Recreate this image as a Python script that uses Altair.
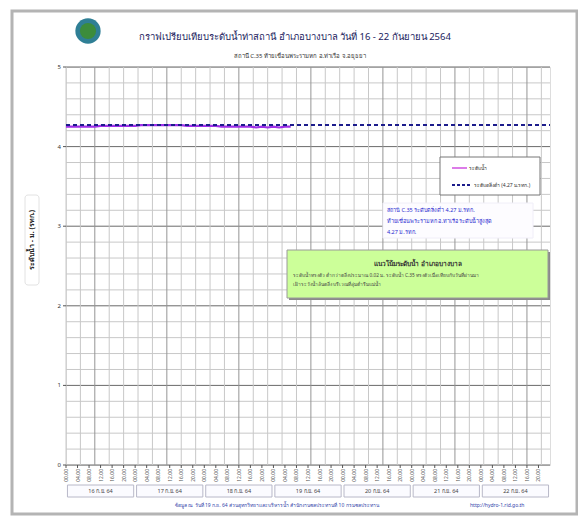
import altair as alt
import pandas as pd

# ---------------- data ----------------
water_hours = [0, 2, 4, 6, 8, 10, 12, 14, 16, 18, 20, 22, 24, 26, 28, 30, 32, 34, 36, 38,
               40, 42, 44, 46, 48, 50, 52, 54, 56, 58, 60, 62, 64, 66, 68, 70, 72, 74, 76, 78]
water_level = [4.25, 4.25, 4.25, 4.25, 4.25, 4.25, 4.26, 4.26, 4.26, 4.26, 4.26, 4.26, 4.26, 4.27,
               4.27, 4.27, 4.27, 4.27, 4.27, 4.27, 4.27, 4.26, 4.26, 4.26, 4.26, 4.26, 4.26, 4.25,
               4.25, 4.25, 4.25, 4.25, 4.25, 4.24, 4.25, 4.24, 4.25, 4.24, 4.25, 4.25]
bank_hours = [0, 168]
bank_level = [4.27, 4.27]
day_labels = ["16 ก.ย. 64", "17 ก.ย. 64", "18 ก.ย. 64", "19 ก.ย. 64",
              "20 ก.ย. 64", "21 ก.ย. 64", "22 ก.ย. 64"]
y_major = [0, 1, 2, 3, 4, 5]
y_grid = [round(i * 0.2, 1) for i in range(26)]
x_label_hours = list(range(0, 168, 4))
x_labels = [f"{h % 24:02d}.00" for h in x_label_hours]
x_grid_hours = list(range(0, 169, 5))

TITLE = "กราฟเปรียบเทียบระดับน้ำท่าสถานี  อำเภอบางบาล  วันที่ 16 - 22 กันยายน 2564"
SUBTITLE = "สถานี C.35 ท้ายเขื่อนพระรามหก อ.ท่าเรือ จ.อยุธยา"
Y_TITLE = "ระดับน้ำ  -  ม. (รทก.)"
LEG1 = "ระดับน้ำ"
LEG2 = "ระดับตลิ่งต่ำ (4.27 ม.รทก.)"
NOTE = ["สถานี C.35 ระดับตลิ่งต่ำ 4.27 ม.รทก.",
        "ท้ายเขื่อนพระรามหก อ.ท่าเรือ  ระดับน้ำสูงสุด",
        "4.27 ม.รทก."]
GREEN_TITLE = "แนวโน้มระดับน้ำ อำเภอบางบาล"
GREEN_LINES = ["ระดับน้ำทรงตัว ต่ำกว่าตลิ่งประมาณ 0.02 ม. ระดับน้ำ C.35 ทรงตัวเมื่อเทียบกับวันที่ผ่านมา",
               "เฝ้าระวังน้ำล้นตลิ่ง บริเวณที่ลุ่มต่ำริมแม่น้ำ"]
FOOTER1 = "ข้อมูล ณ วันที่ 19 ก.ย. 64 ส่วนอุทกวิทยาและบริหารน้ำ สำนักงานชลประทานที่ 10 กรมชลประทาน"
FOOTER2 = "http://hydro-1.rid.go.th"

FONT = "Noto Sans"

water_df = pd.DataFrame({"hour": water_hours, "level": water_level})
bank_df = pd.DataFrame({"hour": bank_hours, "level": bank_level})
vgrid_df = pd.DataFrame({"hour": x_grid_hours,
                         "kind": ["vmajor" if i % 5 == 2 else "minor" for i in range(len(x_grid_hours))]})
hgrid_df = pd.DataFrame({"level": y_grid,
                         "kind": ["major" if abs(v - round(v)) < 1e-6 else "minor" for v in y_grid]})
ylab_df = pd.DataFrame({"level": y_major, "lab": [str(v) for v in y_major]})
xlab_df = pd.DataFrame({"hour": x_label_hours, "lab": x_labels})
day_df = pd.DataFrame({"day": day_labels,
                       "start": [i * 24 + 0.5 for i in range(len(day_labels))],
                       "end": [i * 24 + 23.5 for i in range(len(day_labels))],
                       "mid": [i * 24 + 12 for i in range(len(day_labels))]})

xs = alt.Scale(domain=[0, 168], nice=False, zero=False)
ys = alt.Scale(domain=[0, 5], nice=False, zero=False)
X = lambda f: alt.X(f, scale=xs, axis=None)
Y = lambda f: alt.Y(f, scale=ys, axis=None)
grid_color = alt.Color("kind:N", scale=alt.Scale(domain=["minor", "major", "vmajor"],
                                                  range=["#c8c8c8", "#6a6a6a", "#959595"]),
                       legend=None)

one = pd.DataFrame({"t": [""]})


def text(t, x, y, size, color, **kw):
    return alt.Chart(pd.DataFrame({"t": [t]})).mark_text(
        fontSize=size, color=color, font=FONT, **kw
    ).encode(x=alt.value(x), y=alt.value(y), text="t:N")


def box(x1, x2, y1, y2, **kw):
    return alt.Chart(one).mark_rect(**kw).encode(
        x=alt.value(x1), x2=alt.value(x2), y=alt.value(y1), y2=alt.value(y2))


def seg(x1, x2, y, **kw):
    return alt.Chart(one).mark_rule(**kw).encode(
        x=alt.value(x1), x2=alt.value(x2), y=alt.value(y))


frame = box(-54, 511, -56, 447, fill="white", fillOpacity=0, stroke="#b4b4b4", strokeWidth=3)

hgrid = alt.Chart(hgrid_df).mark_rule(strokeWidth=1).encode(y=Y("level:Q"), color=grid_color)
vgrid = alt.Chart(vgrid_df).mark_rule(strokeWidth=1).encode(x=X("hour:Q"), color=grid_color)

ylabels = alt.Chart(ylab_df).mark_text(fontSize=6, color="#333", font=FONT, align="right",
                                       baseline="middle").encode(
    x=alt.value(-5), y=Y("level:Q"), text="lab:N")
yticks = alt.Chart(ylab_df).mark_rule(color="#555").encode(
    x=alt.value(-3), x2=alt.value(0), y=Y("level:Q"))
xlabels = alt.Chart(xlab_df).mark_text(fontSize=5, color="#555", font=FONT, angle=270,
                                       align="right", baseline="middle").encode(
    x=X("hour:Q"), y=alt.value(402), text="lab:N")
xticks = alt.Chart(xlab_df).mark_rule(color="#555").encode(
    x=X("hour:Q"), y=alt.value(398), y2=alt.value(401))

days_rect = alt.Chart(day_df).mark_rect(fill="#fbfbff", stroke="#b8b8c8", strokeWidth=1).encode(
    x=X("start:Q"), x2="end:Q", y=alt.value(418), y2=alt.value(430))
days_text = alt.Chart(day_df).mark_text(fontSize=5.5, color="#444", font=FONT).encode(
    x=X("mid:Q"), y=alt.value(424), text="day:N")

water = alt.Chart(water_df).mark_line(color="#a030e8", strokeWidth=2.2).encode(
    x=X("hour:Q"), y=Y("level:Q"))
bank = alt.Chart(bank_df).mark_line(color="#1c1c8c", strokeWidth=2, strokeDash=[4, 3]).encode(
    x=X("hour:Q"), y=Y("level:Q"))

logo = alt.Chart(one).mark_circle(size=640, color="#2f7f95", opacity=1).encode(
    x=alt.value(22), y=alt.value(-36))
logo_in = alt.Chart(one).mark_circle(size=260, color="#3c8c3c", opacity=1).encode(
    x=alt.value(22), y=alt.value(-36))

layers = [
    frame,
    hgrid,
    vgrid,
    yticks,
    ylabels,
    xticks,
    xlabels,
    days_rect,
    days_text,
    # legend
    box(374, 474, 90, 128, fill="white", stroke="#777", strokeWidth=1),
    seg(386, 401, 101, color="#d050e0", strokeWidth=1.5),
    text(LEG1, 403, 101, 5, "#333", align="left"),
    seg(386, 406, 118, color="#1c1c8c", strokeWidth=2, strokeDash=[3, 2]),
    text(LEG2, 408, 118, 5, "#333", align="left"),
    # blue note
    box(317, 467, 136, 171, fill="#fdfcff", stroke="#f0eef8", strokeWidth=1),
    text(NOTE[0], 321, 143, 5.5, "#2b2bd0", align="left"),
    text(NOTE[1], 321, 154, 5.5, "#2b2bd0", align="left"),
    text(NOTE[2], 321, 165, 5.5, "#2b2bd0", align="left"),
    # green box
    box(223, 484, 185, 233, fill="#8a8a8a"),
    box(221, 482, 183, 231, fill="#ccff99", stroke="#9a9a9a", strokeWidth=1),
    text(GREEN_TITLE, 352, 197, 6.5, "#333", fontWeight="bold"),
    text(GREEN_LINES[0], 227, 209, 4.8, "#444", align="left"),
    text(GREEN_LINES[1], 227, 218, 4.8, "#444", align="left"),
    water,
    bank,
    # titles
    logo, logo_in,
    text(TITLE, 229, -30, 9.5, "#1b1b5e"),
    text(SUBTITLE, 234, -11, 6, "#333"),
    box(-41, -27, 128, 218, fill="white", stroke="#e2e2e2", strokeWidth=1, cornerRadius=3),
    text(Y_TITLE, -34, 173, 7, "#222", angle=270, fontWeight="bold"),
    text(FOOTER1, 109, 438, 5, "#3344aa", align="left"),
    text(FOOTER2, 404, 438, 5, "#3344aa", align="left"),
]

chart = alt.layer(*layers).properties(
    width=484, height=398,
    padding={"left": 58, "top": 59, "right": 28, "bottom": 51},
    autosize=alt.AutoSizeParams(type="none"),
    background="white",
).configure_view(stroke="#555", strokeWidth=1).configure(font=FONT)

chart.save("out.html", embed_options={"renderer": "svg", "actions": False})
